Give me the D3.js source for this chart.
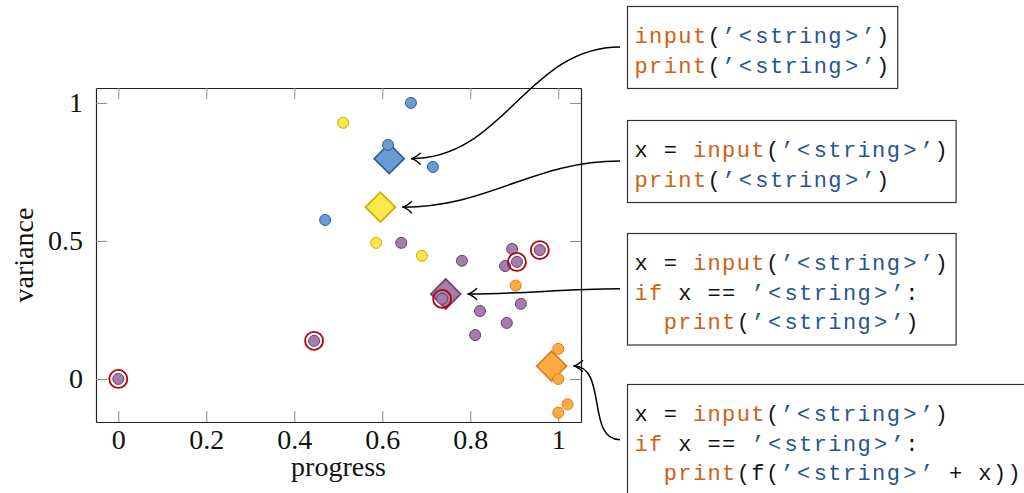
<!DOCTYPE html>
<html>
<head>
<meta charset="utf-8">
<script src="https://cdn.jsdelivr.net/npm/d3@7"></script>
<style>
  html, body { margin: 0; padding: 0; background: #fff; }
  svg { display: block; }
</style>
</head>
<body>
<svg id="chart" width="1024" height="493"></svg>
<script>
// ---------------- data ----------------
const xTicks = [0, 0.2, 0.4, 0.6, 0.8, 1];
const xTickLabels = ["0", "0.2", "0.4", "0.6", "0.8", "1"];
const yTicks = [0, 0.5, 1];
const yTickLabels = ["0", "0.5", "1"];
const xLabel = "progress";
const yLabel = "variance";

const blueX = [0.665, 0.613, 0.715, 0.470];
const blueY = [1.000, 0.848, 0.768, 0.576];

const yellowX = [0.511, 0.586, 0.690];
const yellowY = [0.928, 0.493, 0.446];

const purpleX = [0.643, 0.781, 0.895, 0.906, 0.879, 0.958, 0.736, 0.822, 0.915, 0.883, 0.811, 0.000, 0.445];
const purpleY = [0.493, 0.428, 0.471, 0.424, 0.409, 0.467, 0.290, 0.246, 0.272, 0.203, 0.159, 0.000, 0.138];
const purpleMarked = [false, false, false, true, false, true, true, false, false, false, false, true, true];

const orangeX = [0.903, 1.000, 1.000, 1.021, 1.000];
const orangeY = [0.338, 0.109, 0.000, -0.092, -0.122];

// code snippets (token, kind)
const snippetBlue = [
  [["input", "kw"], ["(", "pl"], ["’<string>’", "str"], [")", "pl"]],
  [["print", "kw"], ["(", "pl"], ["’<string>’", "str"], [")", "pl"]]
];
const snippetYellow = [
  [["x = ", "pl"], ["input", "kw"], ["(", "pl"], ["’<string>’", "str"], [")", "pl"]],
  [["print", "kw"], ["(", "pl"], ["’<string>’", "str"], [")", "pl"]]
];
const snippetPurple = [
  [["x = ", "pl"], ["input", "kw"], ["(", "pl"], ["’<string>’", "str"], [")", "pl"]],
  [["if", "kw"], [" x == ", "pl"], ["’<string>’", "str"], [":", "pl"]],
  [["  ", "pl"], ["print", "kw"], ["(", "pl"], ["’<string>’", "str"], [")", "pl"]]
];
const snippetOrange = [
  [["x = ", "pl"], ["input", "kw"], ["(", "pl"], ["’<string>’", "str"], [")", "pl"]],
  [["if", "kw"], [" x == ", "pl"], ["’<string>’", "str"], [":", "pl"]],
  [["  ", "pl"], ["print", "kw"], ["(f(", "pl"], ["’<string>’", "str"], [" + x))", "pl"]]
];

// ---------------- styles ----------------
const groups = [
  { xs: blueX,   ys: blueY,   fill: "#6a9bd2", stroke: "#2d5c98", snippet: snippetBlue,   boxTop: 6 },
  { xs: yellowX, ys: yellowY, fill: "#fde74a", stroke: "#cfa900", snippet: snippetYellow, boxTop: 120 },
  { xs: purpleX, ys: purpleY, fill: "#a57dab", stroke: "#6b3c74", snippet: snippetPurple, boxTop: 233, marked: purpleMarked },
  { xs: orangeX, ys: orangeY, fill: "#ffaa45", stroke: "#e07a10", snippet: snippetOrange, boxTop: 384 }
];
const tokenColor = { kw: "#cc6212", str: "#28558f", pl: "#111111" };

// ---------------- layout ----------------
const svg = d3.select("#chart");
const L = 96, R = 581, T = 88, B = 422;
const x = d3.scaleLinear().domain([-0.0507, 1.0516]).range([L, R]);
const y = d3.scaleLinear().domain([-0.156, 1.054]).range([B, T]);

const serif = "'Liberation Serif', 'Times New Roman', serif";
const mono = "'Liberation Mono', 'DejaVu Sans Mono', monospace";

// axes (ticks inside, box frame)
const tickLen = 11;
const gB = svg.append("g").attr("transform", `translate(0,${B})`)
  .call(d3.axisBottom(x).tickValues(xTicks).tickSizeInner(-tickLen).tickSizeOuter(0).tickPadding(7)
    .tickFormat((d, i) => xTickLabels[i]));
const gT = svg.append("g").attr("transform", `translate(0,${T})`)
  .call(d3.axisTop(x).tickValues(xTicks).tickSizeInner(-tickLen).tickSizeOuter(0).tickFormat(""));
const gL = svg.append("g").attr("transform", `translate(${L},0)`)
  .call(d3.axisLeft(y).tickValues(yTicks).tickSizeInner(-tickLen).tickSizeOuter(0).tickPadding(13)
    .tickFormat((d, i) => yTickLabels[i]));
const gR = svg.append("g").attr("transform", `translate(${R},0)`)
  .call(d3.axisRight(y).tickValues(yTicks).tickSizeInner(-tickLen).tickSizeOuter(0).tickFormat(""));

[gB, gT, gL, gR].forEach(g => {
  g.select(".domain").attr("stroke", "#222").attr("stroke-width", 1.2);
  g.selectAll(".tick line").attr("stroke", "#888").attr("stroke-width", 1);
  g.selectAll(".tick text").attr("fill", "#111").style("font-family", serif).style("font-size", "28px");
});

svg.append("text").attr("x", (L + R) / 2).attr("y", 476).attr("text-anchor", "middle")
  .style("font-family", serif).style("font-size", "28px").attr("fill", "#111").text(xLabel);
svg.append("text").attr("transform", `translate(33,${(T + B) / 2}) rotate(-90)`).attr("text-anchor", "middle")
  .style("font-family", serif).style("font-size", "28px").attr("fill", "#111").text(yLabel);

// ---------------- marks ----------------
const diamondR = 15, pointR = 5.5, ringR = 9;
const marksG = svg.append("g");

groups.forEach(gr => {
  gr.cx = d3.mean(gr.xs);
  gr.cy = d3.mean(gr.ys);
  const px = x(gr.cx), py = y(gr.cy);
  marksG.append("path")
    .attr("d", `M${px - diamondR},${py} L${px},${py - diamondR} L${px + diamondR},${py} L${px},${py + diamondR} Z`)
    .attr("fill", gr.fill).attr("stroke", gr.stroke).attr("stroke-width", 1.6).attr("stroke-linejoin", "miter");
});

groups.forEach(gr => {
  const pts = gr.xs.map((v, i) => ({ x: v, y: gr.ys[i], m: gr.marked ? gr.marked[i] : false }));
  marksG.selectAll(null).data(pts).enter().append("circle")
    .attr("cx", d => x(d.x)).attr("cy", d => y(d.y)).attr("r", pointR)
    .attr("fill", gr.fill).attr("stroke", gr.stroke).attr("stroke-width", 1);
  marksG.selectAll(null).data(pts.filter(d => d.m)).enter().append("circle")
    .attr("cx", d => x(d.x)).attr("cy", d => y(d.y)).attr("r", ringR)
    .attr("fill", "none").attr("stroke", "#b40000").attr("stroke-width", 1.8);
});

// ---------------- code boxes & arrows ----------------
const defs = svg.append("defs");
defs.append("marker").attr("id", "arrowhead")
  .attr("markerUnits", "userSpaceOnUse").attr("orient", "auto")
  .attr("viewBox", "-12 -8 14 16").attr("markerWidth", 14).attr("markerHeight", 16)
  .attr("refX", 0).attr("refY", 0)
  .append("path").attr("d", "M-9,-5.5 Q-4,-0.8 0,0 Q-4,0.8 -9,5.5")
  .attr("fill", "none").attr("stroke", "#000").attr("stroke-width", 1.4).attr("stroke-linecap", "round");

const boxLeft = 627, charW = 14.6, relPad = 2, lineGap = 29.5, firstBase = 37, padX = 7;

function lineLayout(line) {
  let cx = boxLeft + padX;
  const out = [];
  line.forEach(([tok, kind]) => {
    const chars = [], xs = [];
    for (const c of tok) {
      if (c === "<" || c === ">") {
        cx += relPad;
        chars.push(c); xs.push(cx + 0.5);
        cx += charW + relPad;
      } else {
        if (c !== " ") { chars.push(c); xs.push(cx + 0.5); }
        cx += charW;
      }
    }
    out.push({ text: chars.join(""), xs, kind });
  });
  return { tokens: out, width: cx - boxLeft + padX };
}

const boxesG = svg.append("g");
const arrowsG = svg.append("g");
groups.forEach(gr => {
  const layouts = gr.snippet.map(lineLayout);
  const w = d3.max(layouts, l => l.width);
  const h = 23 + lineGap * gr.snippet.length;
  boxesG.append("rect").attr("x", boxLeft + 0.5).attr("y", gr.boxTop + 0.5)
    .attr("width", w).attr("height", h).attr("fill", "#fff").attr("stroke", "#333").attr("stroke-width", 1.2);
  layouts.forEach((l, li) => {
    const base = gr.boxTop + firstBase + li * lineGap;
    l.tokens.forEach(t => {
      if (!t.text.length) return;
      boxesG.append("text").attr("x", t.xs.join(" ")).attr("y", base)
        .attr("fill", tokenColor[t.kind]).style("font-family", mono).style("font-size", "22px")
        .text(t.text);
    });
  });
  // arrow from box west to diamond east
  const sx = boxLeft - 7, sy = gr.boxTop + h / 2;
  const tx = x(gr.cx) + diamondR + 7, ty = y(gr.cy);
  const dist = Math.hypot(sx - tx, sy - ty) * 0.3915;
  arrowsG.append("path")
    .attr("d", `M${sx},${sy} C${sx - dist},${sy} ${tx + dist},${ty} ${tx},${ty}`)
    .attr("fill", "none").attr("stroke", "#000").attr("stroke-width", 1.5)
    .attr("marker-end", "url(#arrowhead)");
});
</script>
</body>
</html>
